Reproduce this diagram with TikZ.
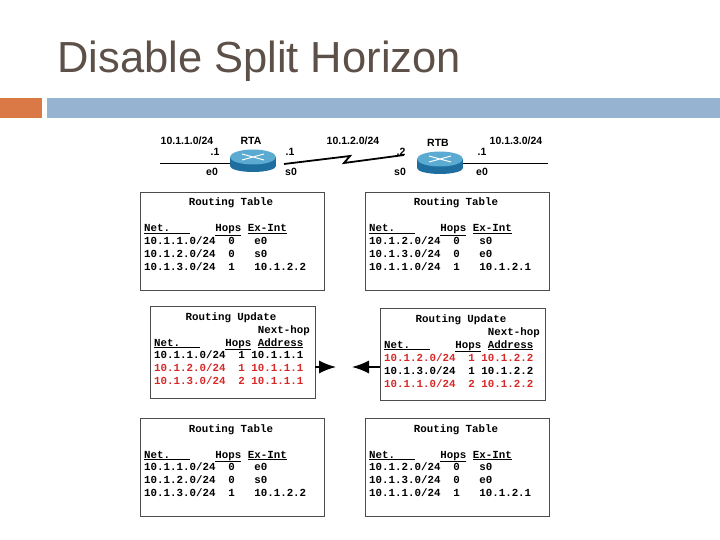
\documentclass[tikz,border=0pt]{standalone}
\usepackage{fontspec}
\usetikzlibrary{arrows.meta}
\setmainfont{Liberation Sans}
\newfontfamily\mono{Liberation Mono}
\definecolor{titlec}{RGB}{92,80,72}
\definecolor{orangebar}{RGB}{218,120,70}
\definecolor{bluebar}{RGB}{150,180,210}
\definecolor{redt}{RGB}{215,40,40}
\definecolor{rtop}{RGB}{90,170,210}
\definecolor{rside}{RGB}{30,110,160}
\begin{document}
\begin{tikzpicture}[x=1pt,y=-1pt,
  lbl/.style={font=\fontsize{10.5}{11}\selectfont\bfseries,inner sep=0,anchor=base},
  tt/.style={font=\mono\fontsize{10.8}{11}\selectfont\bfseries,inner sep=0,anchor=base west},
  rt/.style={tt,text=redt},
  box/.style={draw=black!70,line width=0.8pt},
  arr/.style={-{Latex[length=17pt,width=13pt]},line width=1.5pt}]
\useasboundingbox (0,0) rectangle (720,540);
\node[anchor=base west,inner sep=0,text=titlec,font=\fontsize{43.5}{46}\selectfont] (title) at (57,73) {Disable Split Horizon};
\fill[orangebar] (0,98) rectangle (42,118);
\fill[bluebar] (47,98) rectangle (720,118);
% network
\coordinate (la) at (160,163); \coordinate (rb) at (548,163);
\draw[line width=0.7pt] (la) -- (232,163);
\draw[line width=0.7pt] (462,163) -- (rb);
\draw[line width=1.8pt] (284,164) -- (350,156) -- (344,163) -- (404,155);
\foreach \n/\cx/\cy in {rta/253/157, rtb/440/159}{
  \fill[rside] (\cx-23,\cy) rectangle (\cx+23,\cy+9);
  \fill[rside] (\cx,\cy+9) ellipse (23 and 6);
  \fill[rtop] (\cx,\cy) ellipse (23 and 7.5);
  \draw[white,line width=1pt] (\cx-11,\cy-3)--(\cx+11,\cy+3) (\cx-11,\cy+3)--(\cx+11,\cy-3);
  \node[inner sep=0,minimum width=46pt,minimum height=22pt] (\n) at (\cx,\cy+4) {};
}
\node[lbl] (n1) at (187,145) {10.1.1.0/24};
\node[lbl] (ta) at (251,145) {RTA};
\node[lbl] (a1) at (215,156) {.1};
\node[lbl] (ae) at (212,176) {e0};
\node[lbl] (as1) at (290,156) {.1};
\node[lbl] (as) at (291,176) {s0};
\node[lbl] (n2) at (353,145) {10.1.2.0/24};
\node[lbl] (tb) at (438,147) {RTB};
\node[lbl] (b2) at (401,156) {.2};
\node[lbl] (bs) at (400,176) {s0};
\node[lbl] (b1) at (482,156) {.1};
\node[lbl] (be) at (482,176) {e0};
\node[lbl] (n3) at (516,145) {10.1.3.0/24};
% routing tables
\foreach \x/\y/\ra/\rb/\rc in {140/192/{10.1.1.0/24~~0~~~e0}/{10.1.2.0/24~~0~~~s0}/{10.1.3.0/24~~1~~~10.1.2.2},
  365/192/{10.1.2.0/24~~0~~~s0}/{10.1.3.0/24~~0~~~e0}/{10.1.1.0/24~~1~~~10.1.2.1},
  140/418/{10.1.1.0/24~~0~~~e0}/{10.1.2.0/24~~0~~~s0}/{10.1.3.0/24~~1~~~10.1.2.2},
  365/418/{10.1.2.0/24~~0~~~s0}/{10.1.3.0/24~~0~~~e0}/{10.1.1.0/24~~1~~~10.1.2.1}}{
  \draw[box] (\x,\y) rectangle (\x+184,\y+98);
  \node[tt,anchor=base] at (\x+91,\y+14) {Routing Table};
  \node[tt] at (\x+4,\y+40) {\underline{Net.~~~}~~~~\underline{Hops}~\underline{Ex-Int}};
  \node[tt] at (\x+4,\y+52) {\ra};
  \node[tt] at (\x+4,\y+65) {\rb};
  \node[tt] at (\x+4,\y+78) {\rc};
}
% updates
\draw[box] (150,306) rectangle (315,398);
\node (ul) [inner sep=0,minimum width=165pt,minimum height=92pt] at (232.5,352) {};
\node[tt,anchor=base] at (231,320) {Routing Update};
\node[tt] at (154,333) {~~~~~~~~~~~~~~~~Next-hop};
\node[tt] at (154,346) {\underline{Net.~~~}~~~~\underline{Hops}~\underline{Address}};
\node[tt] at (154,358) {10.1.1.0/24~~1~10.1.1.1};
\node[rt] at (154,371) {10.1.2.0/24~~1~10.1.1.1};
\node[rt] at (154,384) {10.1.3.0/24~~2~10.1.1.1};
\draw[box] (380,308) rectangle (545,400);
\node (ur) [inner sep=0,minimum width=165pt,minimum height=92pt] at (462.5,354) {};
\node[tt,anchor=base] at (461,322) {Routing Update};
\node[tt] at (384,335) {~~~~~~~~~~~~~~~~Next-hop};
\node[tt] at (384,348) {\underline{Net.~~~}~~~~\underline{Hops}~\underline{Address}};
\node[rt] at (384,361) {10.1.2.0/24~~1~10.1.2.2};
\node[tt] at (384,374) {10.1.3.0/24~~1~10.1.2.2};
\node[rt] at (384,387) {10.1.1.0/24~~2~10.1.2.2};
\coordinate (pl) at (336,367); \coordinate (pr) at (352,367);
\draw[arr] (ul.east |- pl) -- (pl);
\draw[arr] (ur.west |- pr) -- (pr);
\end{tikzpicture}
\end{document}
